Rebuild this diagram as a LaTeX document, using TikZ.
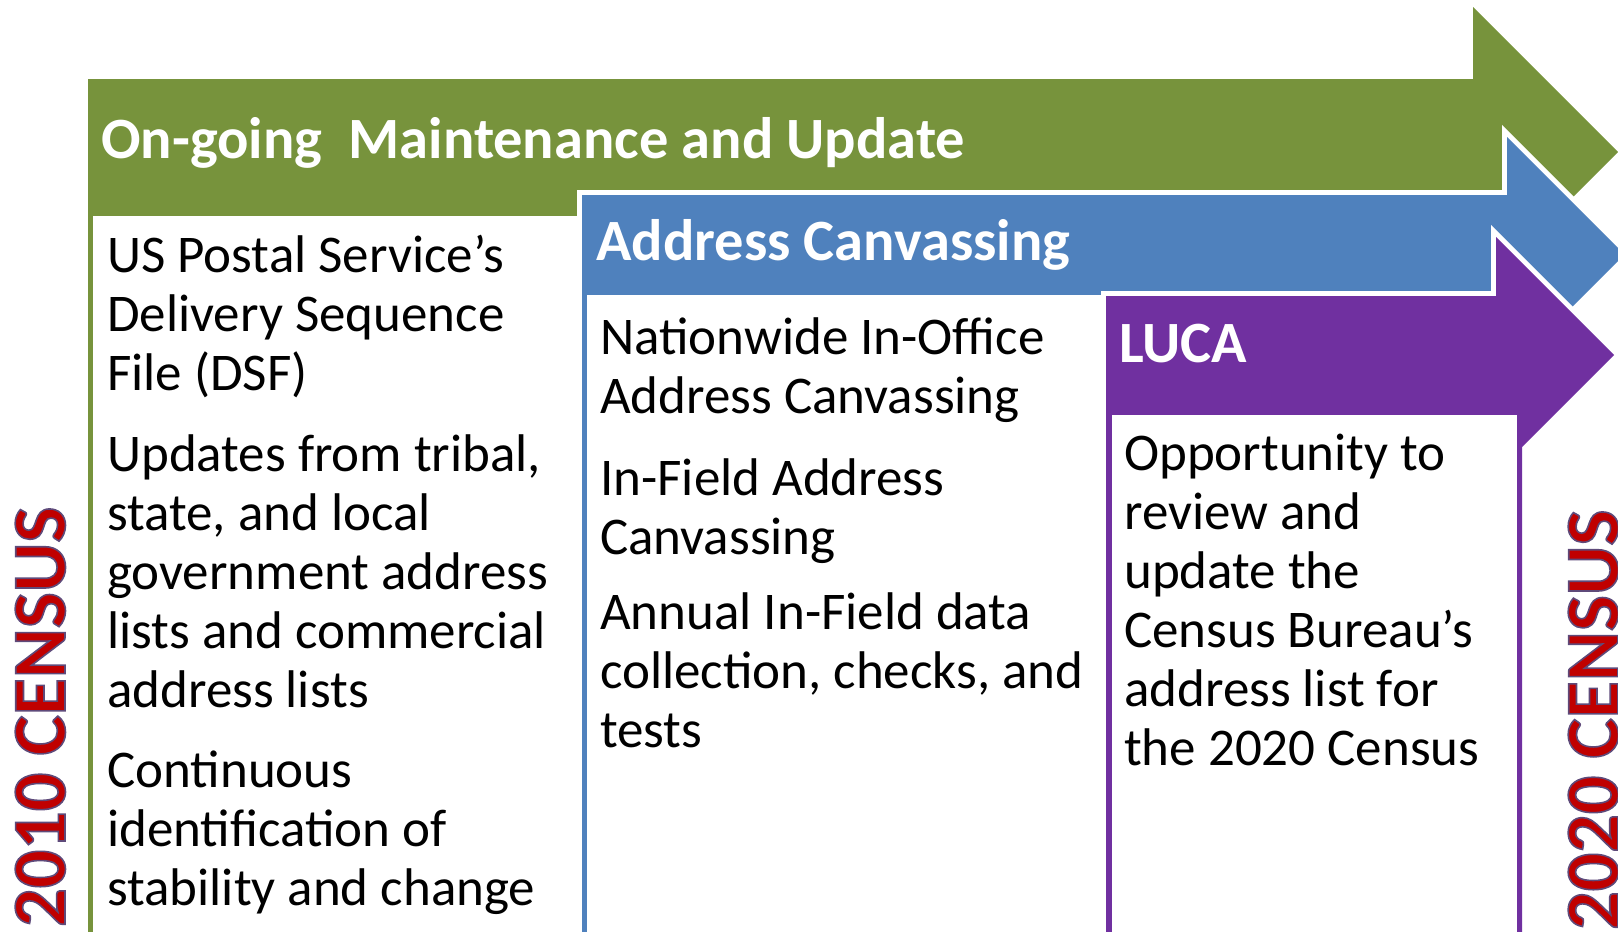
\documentclass[tikz,border=0pt]{standalone}
\usepackage{fontspec}
\setmainfont{Carlito}
\definecolor{cgreen}{RGB}{119,147,60}
\definecolor{cblue}{RGB}{79,129,189}
\definecolor{cpurple}{RGB}{112,48,160}
\definecolor{cred}{RGB}{192,0,0}
\newcommand{\outlinedtext}[1]{\special{pdf:literal direct 2 Tr 1.6 w 0.37 0.29 0.48 RG}#1\special{pdf:literal direct 0 Tr}}
\tikzset{
  header/.style={anchor=base west, inner sep=0pt, text=white, font={\fontsize{58.5}{70}\selectfont\bfseries}},
  body/.style={anchor=base west, inner sep=0pt, align=left, font={\fontsize{53}{59}\selectfont}},
  census/.style={anchor=base west, inner sep=0pt, rotate=90, text=cred, font={\fontsize{76}{90}\selectfont\bfseries}},
  halo/.style={draw=white, line width=10pt, line join=miter},
}
\begin{document}
\begin{tikzpicture}[x=1pt,y=-1pt]
\useasboundingbox (0,0) rectangle (1618,932);
% green column
\fill[cgreen] (88,79) -- (1473,79) -- (1473,7) -- (1618,152) -- (1473,297) -- (1473,227) -- (582,227) -- (582,940) -- (88,940) -- cycle;
\fill[white] (93,216) rectangle (577,940);
% blue column
\path[halo] (582,195) -- (1507,195) -- (1507,137) -- (1624.5,254.5) -- (1507,372) -- (1507,314) -- (1106,314) -- (1106,940) -- (582,940) -- cycle;
\fill[cblue] (582,195) -- (1507,195) -- (1507,137) -- (1624.5,254.5) -- (1507,372) -- (1507,314) -- (1106,314) -- (1106,940) -- (582,940) -- cycle;
\fill[white] (587,295) rectangle (1101,940);
% purple column
\path[halo] (1106,296) -- (1496,296) -- (1496,237) -- (1614,355) -- (1522,447) -- (1522,940) -- (1106,940) -- cycle;
\fill[cpurple] (1106,296) -- (1496,296) -- (1496,237) -- (1614,355) -- (1522,447) -- (1522,940) -- (1106,940) -- cycle;
\fill[white] (1112,415) rectangle (1517,940);
% headers
\node[header] (h1) at (101,158) {On-going\ \ Maintenance and Update};
\node[header] (h2) at (596,260) {Address Canvassing};
\node[header] (h3) at (1119,362) {LUCA};
% body texts (anchored at the baseline of the last line)
\node[body] (p1) at (107,390) {US Postal Service’s\\Delivery Sequence\\File (DSF)};
\node[body] (p2) at (107,707) {Updates from tribal,\\state, and local\\government address\\lists and commercial\\address lists};
\node[body] (p3) at (107,905) {Continuous\\identification of\\stability and change};
\node[body] (q1) at (600,413) {Nationwide In-Office\\Address Canvassing};
\node[body] (q2) at (600,554) {In-Field Address\\Canvassing};
\node[body] (q3) at (600,747) {Annual In-Field data\\collection, checks, and\\tests};
\node[body] (r1) at (1124,765) {Opportunity to\\review and\\update the\\Census Bureau’s\\address list for\\the 2020 Census};
% census labels
\node[census] (c1) at (65,927) {\outlinedtext{2010 CENSUS}};
\node[census] (c2) at (1618,930) {\outlinedtext{2020 CENSUS}};
\end{tikzpicture}
\end{document}
